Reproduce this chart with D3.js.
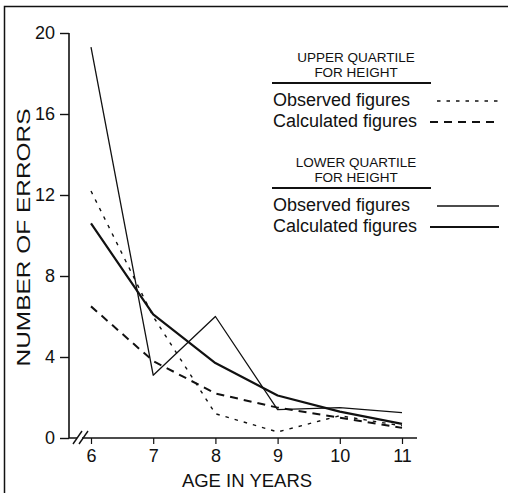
<!DOCTYPE html>
<html>
<head>
<meta charset="utf-8">
<script src="https://cdn.jsdelivr.net/npm/d3@7"></script>
<style>
  html, body { margin: 0; padding: 0; background: #fff; }
  svg { display: block; }
  text { font-family: "Liberation Sans", Arial, Helvetica, sans-serif; fill: #111; }
</style>
</head>
<body>
<svg id="chart" width="508" height="493"></svg>
<script>
// Ages on the horizontal axis
const ages = [6, 7, 8, 9, 10, 11];
// Error counts, upper quartile for height
const upperObserved   = [12.2, 6.0, 1.2, 0.3, 1.1, 0.6];
const upperCalculated = [6.5, 3.8, 2.2, 1.5, 1.0, 0.5];
// Error counts, lower quartile for height
const lowerObserved   = [19.3, 3.1, 6.0, 1.4, 1.5, 1.25];
const lowerCalculated = [10.6, 6.1, 3.7, 2.1, 1.3, 0.7];
// Axis ticks
const yTicks = [0, 4, 8, 12, 16, 20];
const xTicks = [6, 7, 8, 9, 10, 11];

const ink = "#111";
const svg = d3.select("#chart");

const x = d3.scaleLinear().domain([6, 11]).range([91, 402]);
const y = d3.scaleLinear().domain([0, 20]).range([438, 33]);
const axisX = 69;

// Frame around the figure
svg.append("path")
  .attr("d", "M4.5,493 V6.5 H508")
  .attr("fill", "none").attr("stroke", ink).attr("stroke-width", 1.5);

// Vertical axis
const gy = svg.append("g").attr("transform", `translate(${axisX},0)`)
  .call(d3.axisLeft(y).tickValues(yTicks).tickFormat(d3.format("d"))
    .tickSize(9).tickPadding(5).tickSizeOuter(0));
gy.select(".domain").remove();
gy.append("line").attr("x1", 0).attr("x2", 0).attr("y1", y(20)).attr("y2", y(0))
  .attr("stroke", ink).attr("stroke-width", 1.6);
gy.selectAll(".tick line").attr("stroke", ink).attr("stroke-width", 1.4);
gy.selectAll(".tick text").style("font-size", "18px").style("font-family", "Liberation Sans, Arial, sans-serif").attr("fill", ink);

// Horizontal axis
const gx = svg.append("g").attr("transform", `translate(0,${y(0)})`)
  .call(d3.axisBottom(x).tickValues(xTicks).tickFormat(d3.format("d"))
    .tickSize(6).tickPadding(5).tickSizeOuter(0));
gx.select(".domain").remove();
gx.append("line").attr("x1", axisX).attr("x2", 417).attr("y1", 0).attr("y2", 0)
  .attr("stroke", ink).attr("stroke-width", 1.6);
gx.selectAll(".tick line").attr("stroke", ink).attr("stroke-width", 1.2);
gx.selectAll(".tick text").style("font-size", "18px").style("font-family", "Liberation Sans, Arial, sans-serif").attr("fill", ink);

// Axis break marks near the origin
const br = svg.append("g").attr("transform", `translate(0,${y(0)})`);
br.append("rect").attr("x", 77).attr("y", -3).attr("width", 5).attr("height", 6).attr("fill", "#fff");
[[73, 80], [79, 86]].forEach(([a, b]) => {
  br.append("line").attr("x1", a).attr("y1", 6).attr("x2", b + 2).attr("y2", -7)
    .attr("stroke", ink).attr("stroke-width", 1.4);
});

// Axis titles
svg.append("text")
  .attr("transform", `translate(30,${(y(0) + y(20)) / 2 + 2}) rotate(-90)`)
  .attr("text-anchor", "middle")
  .attr("textLength", 258).attr("lengthAdjust", "spacingAndGlyphs")
  .style("font-size", "18.5px")
  .text("NUMBER OF ERRORS");

svg.append("text")
  .attr("x", 247).attr("y", 487)
  .attr("text-anchor", "middle")
  .style("font-size", "18.5px")
  .text("AGE IN YEARS");

// Series lines
const series = [
  { values: upperObserved,   width: 1.4, dash: "3.5,6" },
  { values: upperCalculated, width: 2.0, dash: "8,6" },
  { values: lowerObserved,   width: 1.3, dash: null },
  { values: lowerCalculated, width: 2.2, dash: null }
];
const line = d3.line().x((d, i) => x(ages[i])).y(d => y(d));
series.forEach(s => {
  svg.append("path")
    .attr("d", line(s.values))
    .attr("fill", "none")
    .attr("stroke", ink)
    .attr("stroke-width", s.width)
    .attr("stroke-linejoin", "round")
    .attr("stroke-dasharray", s.dash);
});

// Legend
const legend = [
  { title: ["UPPER QUARTILE", "FOR HEIGHT"], top: 57, items: [series[0], series[1]] },
  { title: ["LOWER QUARTILE", "FOR HEIGHT"], top: 162, items: [series[2], series[3]] }
];
const itemLabels = ["Observed figures", "Calculated figures"];
legend.forEach(block => {
  block.title.forEach((t, i) => {
    svg.append("text")
      .attr("x", 356).attr("y", block.top + 5 + i * 15)
      .attr("text-anchor", "middle")
      .style("font-size", "13.5px")
      .text(t);
  });
  svg.append("line")
    .attr("x1", 272).attr("x2", 431)
    .attr("y1", block.top + 26).attr("y2", block.top + 26)
    .attr("stroke", ink).attr("stroke-width", 2);
  block.items.forEach((s, i) => {
    const cy = block.top + 43 + i * 21;
    svg.append("text")
      .attr("x", 273).attr("y", cy + 6)
      .style("font-size", "18px")
      .text(itemLabels[i]);
    svg.append("line")
      .attr("x1", i === 0 ? 437 : 430).attr("x2", 499)
      .attr("y1", cy + 1).attr("y2", cy + 1)
      .attr("stroke", ink)
      .attr("stroke-width", s.width)
      .attr("stroke-dasharray", s.dash);
  });
});
</script>
</body>
</html>
